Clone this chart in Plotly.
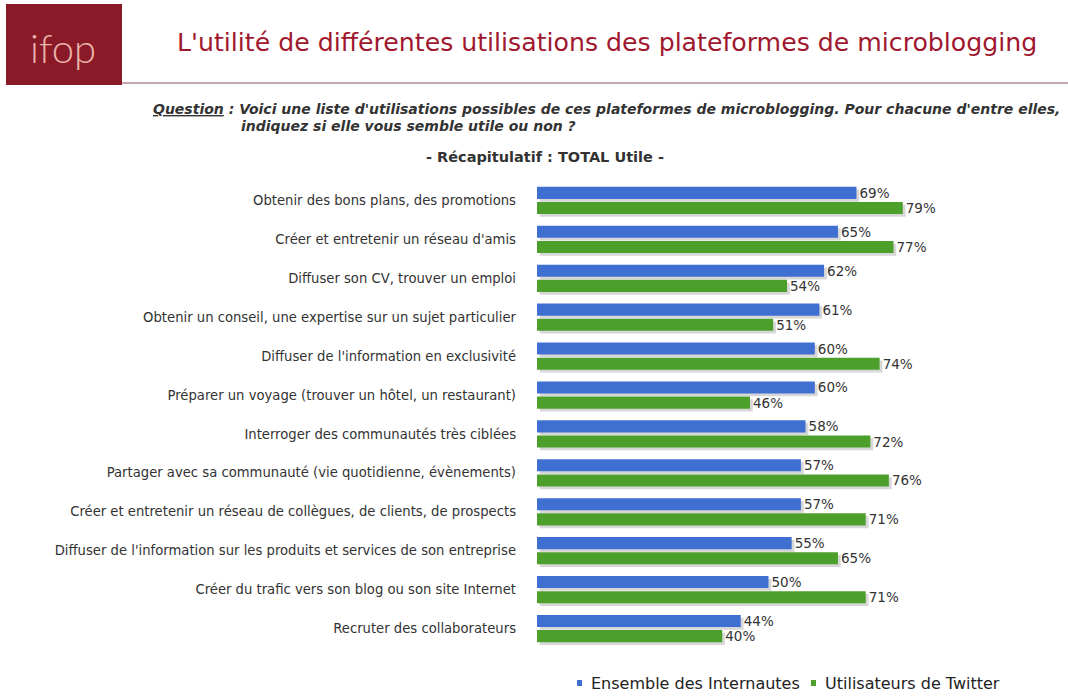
import plotly.graph_objects as go

categories = [
    "Obtenir des bons plans, des promotions",
    "Créer et entretenir un réseau d'amis",
    "Diffuser son CV, trouver un emploi",
    "Obtenir un conseil, une expertise sur un sujet particulier",
    "Diffuser de l'information en exclusivité",
    "Préparer un voyage (trouver un hôtel, un restaurant)",
    "Interroger des communautés très ciblées",
    "Partager avec sa communauté (vie quotidienne, évènements)",
    "Créer et entretenir un réseau de collègues, de clients, de prospects",
    "Diffuser de l'information sur les produits et services de son entreprise",
    "Créer du trafic vers son blog ou son site Internet",
    "Recruter des collaborateurs",
]
internautes = [69, 65, 62, 61, 60, 60, 58, 57, 57, 55, 50, 44]
twitter = [79, 77, 54, 51, 74, 46, 72, 76, 71, 65, 71, 40]

series_names = ["Ensemble des Internautes", "Utilisateurs de Twitter"]

blue = "#3f6fd1"
green = "#4d9f2c"
shadow = "rgba(140,140,140,0.35)"
font = "DejaVu Sans"

W, H = 1068, 696
L, R, T, B = 537, 68, 181, 48

def px(x):
    # pixel x -> paper coordinate
    return (x - L) / (W - L - R)

def py(y):
    # pixel y -> paper coordinate
    return (H - B - y) / (H - T - B)

fig = go.Figure()

bar_w = 0.31
offsets = [-0.35, 0.04]

# soft drop shadows behind the bars
for vals, off in [(internautes, offsets[0]), (twitter, offsets[1])]:
    fig.add_trace(go.Bar(
        y=categories, x=vals, orientation="h", base=0.6,
        width=bar_w, offset=off + 0.07,
        marker=dict(color=shadow, line=dict(width=0)),
        hoverinfo="skip", showlegend=False,
    ))

for name, vals, color, off in [(series_names[0], internautes, blue, offsets[0]),
                               (series_names[1], twitter, green, offsets[1])]:
    fig.add_trace(go.Bar(
        y=categories, x=vals, orientation="h", name=name,
        width=bar_w, offset=off,
        marker=dict(color=color, line=dict(width=0)),
        text=[f"{v}%" for v in vals], textposition="outside",
        textfont=dict(size=13.5, color="#333333", family=font),
        constraintext="none", cliponaxis=False, showlegend=False,
    ))

fig.update_layout(
    width=W, height=H,
    paper_bgcolor="white", plot_bgcolor="white",
    barmode="overlay",
    margin=dict(l=L, r=R, t=T, b=B, autoexpand=False),
    font=dict(family=font, color="#333333"),
    xaxis=dict(range=[0, 100], visible=False, fixedrange=True),
    yaxis=dict(autorange="reversed", showgrid=False, showline=False,
               ticks="", ticklen=0, tickfont=dict(size=13.2, color="#333333", family=font),
               ticklabelstandoff=20, fixedrange=True),
    showlegend=False,
)

# legend drawn by hand: small square + label
for name, color, x0 in [(series_names[0], blue, 577), (series_names[1], green, 811)]:
    fig.add_shape(type="rect", xref="paper", yref="paper",
                  x0=px(x0), x1=px(x0 + 5), y0=py(686), y1=py(680),
                  fillcolor=color, line=dict(width=0))
    fig.add_annotation(text=name, xref="paper", yref="paper", x=px(x0 + 12), y=py(683),
                       showarrow=False, font=dict(size=16, color="#222222", family=font),
                       xanchor="left", yanchor="middle")

# logo block and header rule
fig.add_shape(type="rect", xref="paper", yref="paper",
              x0=px(6), x1=px(122), y0=py(85), y1=py(4),
              fillcolor="#8a1a28", line=dict(width=0), layer="above")
fig.add_shape(type="line", xref="paper", yref="paper",
              x0=px(122), x1=px(1068), y0=py(83), y1=py(83),
              line=dict(color="#bfa9ab", width=2))

fig.add_annotation(text="ifop", xref="paper", yref="paper", x=px(63), y=py(48),
                   showarrow=False,
                   font=dict(size=40, color="#e9b4ac", family="Lato", weight=300),
                   xanchor="center", yanchor="middle")
fig.add_annotation(text="L'utilité de différentes utilisations des plateformes de microblogging",
                   xref="paper", yref="paper", x=px(175), y=py(42),
                   showarrow=False, font=dict(size=25.2, color="#a0182e", family=font),
                   xanchor="left", yanchor="middle")
fig.add_annotation(text="<b><i><u>Question</u> : Voici une liste d'utilisations possibles de ces plateformes de microblogging. Pour chacune d'entre elles,</i></b>",
                   xref="paper", yref="paper", x=px(151), y=py(109),
                   showarrow=False, font=dict(size=14, color="#333333", family=font),
                   xanchor="left", yanchor="middle")
fig.add_annotation(text="<b><i>indiquez si elle vous semble utile ou non ?</i></b>",
                   xref="paper", yref="paper", x=px(239), y=py(126),
                   showarrow=False, font=dict(size=14, color="#333333", family=font),
                   xanchor="left", yanchor="middle")
fig.add_annotation(text="<b>- Récapitulatif : TOTAL Utile -</b>",
                   xref="paper", yref="paper", x=px(545), y=py(157),
                   showarrow=False, font=dict(size=14.5, color="#333333", family=font),
                   xanchor="center", yanchor="middle")

fig.write_html("out.html", config={"displayModeBar": False},
               post_script="document.body.style.margin='0';")
